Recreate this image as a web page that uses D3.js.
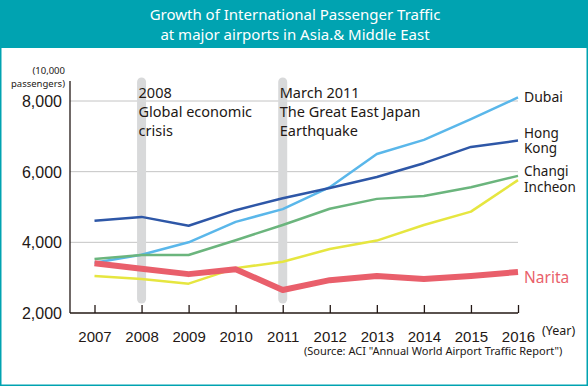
<!DOCTYPE html>
<html>
<head>
<meta charset="utf-8">
<script src="https://cdn.jsdelivr.net/npm/d3@7"></script>
<style>
  body { margin: 0; background: #fff; }
  svg { display: block; font-family: "Noto Sans", "Open Sans", sans-serif; }
</style>
</head>
<body>
<div id="chart"></div>
<script>
// data
const years = [2007, 2008, 2009, 2010, 2011, 2012, 2013, 2014, 2015, 2016];
const dubai    = [3420, 3650, 4000, 4580, 4940, 5560, 6500, 6900, 7490, 8100];
const hongKong = [4610, 4720, 4470, 4910, 5250, 5540, 5850, 6240, 6700, 6880];
const changi   = [3530, 3640, 3640, 4060, 4490, 4950, 5230, 5310, 5560, 5880];
const incheon  = [3050, 2960, 2830, 3270, 3450, 3810, 4050, 4490, 4870, 5760];
const narita   = [3410, 3250, 3100, 3240, 2650, 2930, 3050, 2960, 3050, 3160];
const yTicks = [2000, 4000, 6000, 8000];
const events = [
  { year: 2008, lines: ['2008', 'Global economic', 'crisis'] },
  { year: 2011, lines: ['March 2011', 'The Great East Japan', 'Earthquake'] },
];
const series = [
  { values: dubai, color: '#5ab7ea', width: 2.5 },
  { values: hongKong, color: '#2e57a7', width: 2.5 },
  { values: changi, color: '#6bb57d', width: 2.5 },
  { values: incheon, color: '#e6e640', width: 2.5 },
  { values: narita, color: '#e95f6b', width: 6 },
];

const W = 588, H = 386;
const teal = '#00a3b1';
const ink = '#231815';

const svg = d3.select('#chart').append('svg').attr('width', W).attr('height', H);

// frame and header
svg.append('rect').attr('x', 0).attr('y', 0).attr('width', W).attr('height', H).attr('fill', teal);
svg.append('rect').attr('x', 1.5).attr('y', 48).attr('width', W - 3).attr('height', H - 48 - 1.5).attr('fill', '#fff');
const title = svg.append('text').attr('fill', '#fff').attr('text-anchor', 'middle')
  .attr('font-size', 15);
title.append('tspan').attr('x', 295).attr('y', 20).text('Growth of International Passenger Traffic');
title.append('tspan').attr('x', 295).attr('y', 40).text('at major airports in Asia.& Middle East');

const x = d3.scaleLinear().domain([2007, 2016]).range([94.5, 518]);
const y = d3.scaleLinear().domain([2000, 8000]).range([313, 101]);

const g = svg.append('g');

// gridlines
g.selectAll('.grid').data(yTicks.slice(1)).join('line')
  .attr('x1', 70).attr('x2', x(2016))
  .attr('y1', d => y(d)).attr('y2', d => y(d))
  .attr('stroke', '#c4c4c4').attr('stroke-width', 1);

// event bars
g.selectAll('.ev').data(events).join('line')
  .attr('x1', d => x(d.year)).attr('x2', d => x(d.year))
  .attr('y1', 82).attr('y2', 299)
  .attr('stroke', '#d8d9da').attr('stroke-width', 9).attr('stroke-linecap', 'round');

// axes
const yAxis = g.append('g').attr('transform', 'translate(70,0)')
  .call(d3.axisLeft(y).tickValues(yTicks).tickFormat(d3.format(',')).tickSize(0).tickPadding(8));
yAxis.select('.domain').remove();
yAxis.append('line').attr('x1', 0).attr('x2', 0).attr('y1', 81).attr('y2', y(2000)).attr('stroke', ink).attr('stroke-width', 1.3);
yAxis.selectAll('text').attr('font-size', 16).attr('fill', ink).attr('font-family', 'inherit').attr('dy', '0.35em');

const xAxis = g.append('g').attr('transform', `translate(0,${y(2000)})`)
  .call(d3.axisBottom(x).tickValues(years).tickFormat(d3.format('d')).tickSize(-8).tickPadding(18));
xAxis.select('.domain').remove();
xAxis.append('line').attr('x1', 70).attr('x2', x(2016)).attr('stroke', ink).attr('stroke-width', 1.3);
xAxis.selectAll('.tick line').attr('stroke', ink).attr('stroke-width', 1.3);
xAxis.selectAll('text').attr('font-size', 15).attr('fill', ink).attr('font-family', 'inherit');

// event annotations
events.forEach(e => {
  const t = g.append('text').attr('fill', ink).attr('font-size', 14.5);
  e.lines.forEach((l, i) => {
    t.append('tspan').attr('x', x(e.year) - 3).attr('y', 98 + i * 19).text(l);
  });
});

// lines
const line = d3.line().x((d, i) => x(years[i])).y(d => y(d));
g.selectAll('.series').data(series).join('path')
  .attr('d', d => line(d.values))
  .attr('fill', 'none')
  .attr('stroke', d => d.color)
  .attr('stroke-width', d => d.width)
  .attr('stroke-linejoin', 'round');

// labels
const lab = (lines, yPos, color, size, lh) => {
  const t = g.append('text').attr('fill', color).attr('font-size', size);
  lines.forEach((l, i) => t.append('tspan').attr('x', 524).attr('y', yPos + i * lh).text(l));
};
lab(['Dubai'], 102, ink, 14, 14);
lab(['Hong', 'Kong'], 138, ink, 13.5, 15);
lab(['Changi', 'Incheon'], 176, ink, 13.5, 16);
lab(['Narita'], 283, '#e95f6b', 15.5, 16);

// units and notes
const unit = g.append('text').attr('fill', ink).attr('font-size', 9.5).attr('text-anchor', 'end');
unit.append('tspan').attr('x', 65).attr('y', 74).text('(10,000');
unit.append('tspan').attr('x', 65).attr('y', 87).text('passengers)');
g.append('text').attr('x', 542).attr('y', 335).attr('fill', ink).attr('font-size', 12.5).text('(Year)');
g.append('text').attr('x', 304).attr('y', 355).attr('fill', ink).attr('font-size', 11)
  .text('(Source: ACI  "Annual World Airport Traffic Report")');
</script>
</body>
</html>
